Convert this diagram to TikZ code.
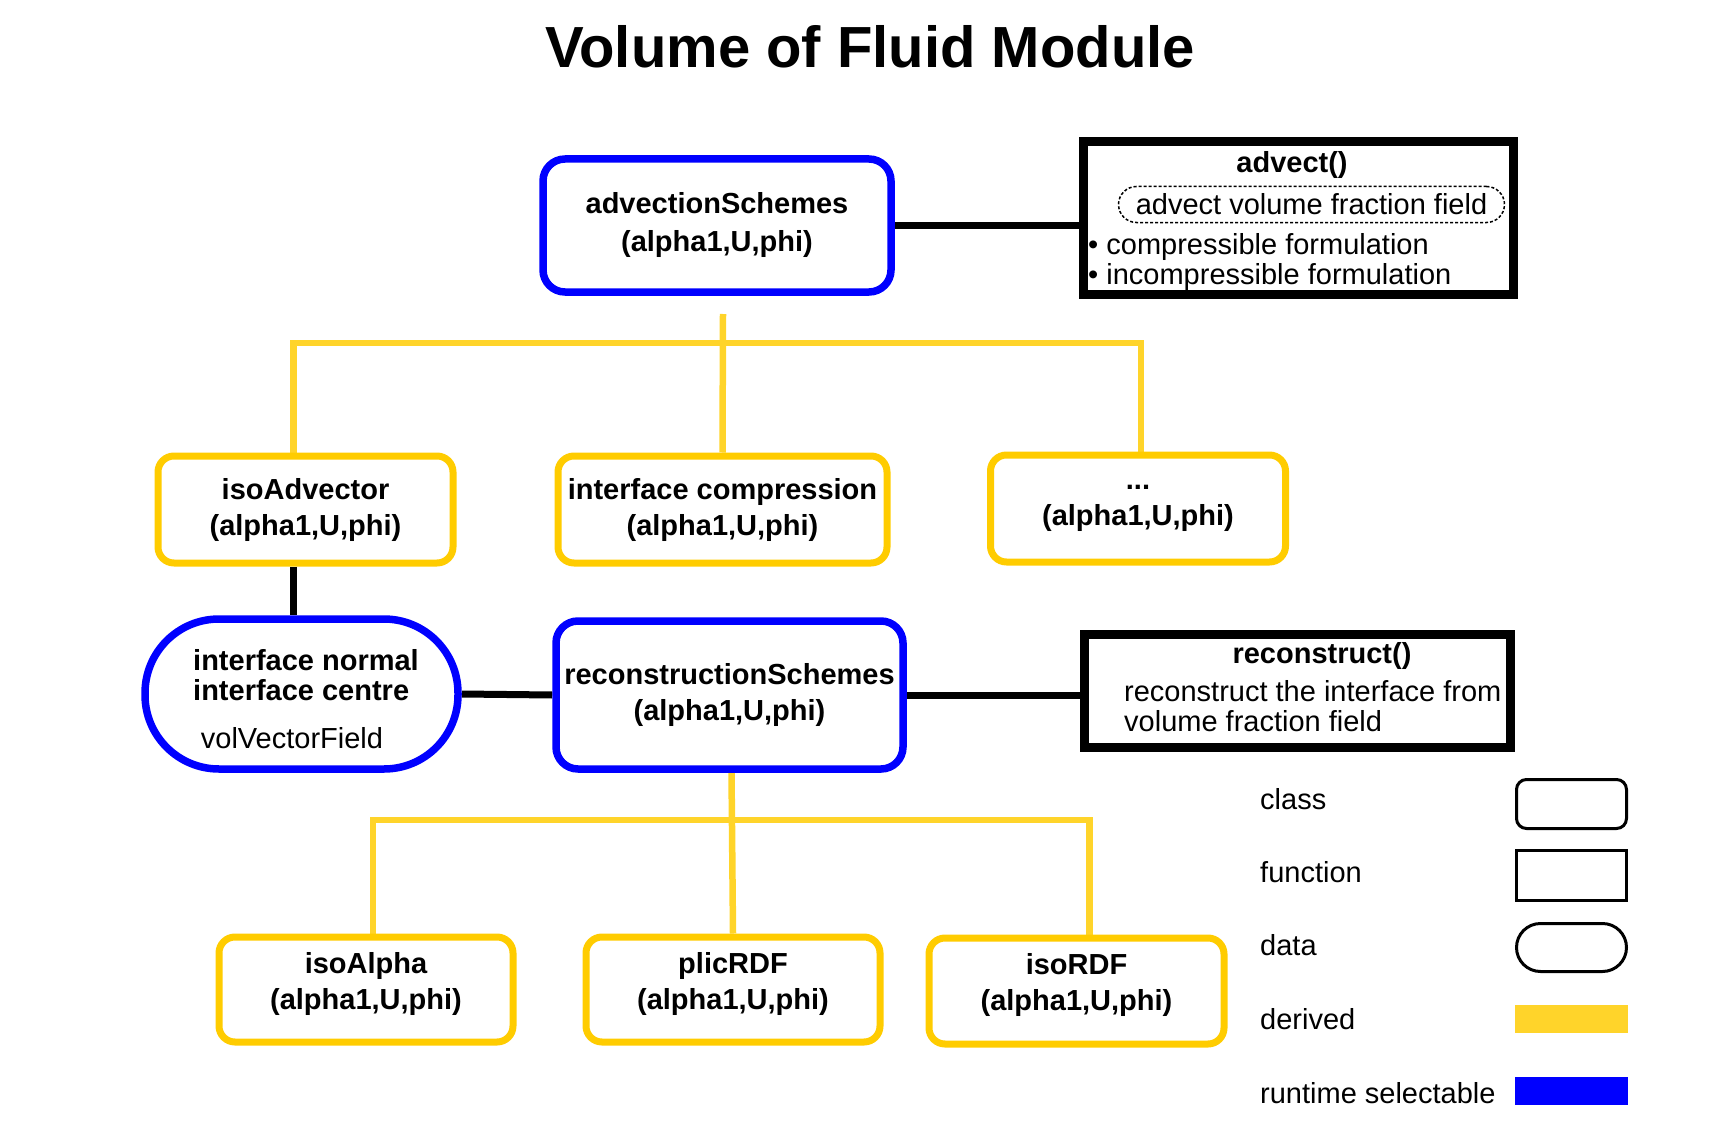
\documentclass[tikz,border=0pt]{standalone}
\usepackage{fontspec}
\setmainfont{Liberation Sans}
\usetikzlibrary{backgrounds,positioning}
\definecolor{rtblue}{RGB}{0,0,255}
\definecolor{dboxyellow}{RGB}{255,204,0}
\definecolor{dlineyellow}{RGB}{255,212,42}

\begin{document}
\begin{tikzpicture}[x=1pt,y=-1pt]
      \tikzstyle{every node}=[inner sep=0pt, align=center, font=\fontsize{29}{36}\selectfont]
      \tikzstyle{bold}=[font=\fontsize{29}{36}\selectfont\bfseries]
      \tikzstyle{runtime}=[draw=rtblue, line width=7.5pt, rounded corners=22pt, fill=white, bold]
      \tikzstyle{derivedbox}=[draw=dboxyellow, line width=7pt, rounded corners=16pt, fill=white, bold, minimum width=295pt, minimum height=107pt]
      \tikzstyle{fnbox}=[draw, line width=9pt, fill=white]
      \tikzstyle{link}=[line width=7pt, black]
      \tikzstyle{derived}=[draw=dlineyellow, line width=6.5pt]
      \tikzstyle{keybox}=[draw, line width=3pt, minimum width=110pt, minimum height=49pt]
      \tikzstyle{keyfill}=[minimum width=113pt, minimum height=28pt]

      \useasboundingbox (0,0) rectangle (1709,1129);
      \node[font=\fontsize{58}{70}\selectfont\bfseries] (title) at (870,47) {Volume of Fluid Module};

      % advection
      \node[runtime, minimum width=348pt, minimum height=133pt, font=\fontsize{29}{38}\selectfont\bfseries] (adv) at (717,225.5) {advectionSchemes\\(alpha1,U,phi)};
      \node[fnbox, minimum width=430pt, minimum height=153pt] (advect) at (1298.5,218) {};
      \node[bold] (advecttitle) at (1292,165) {advect()};
      \node[draw, line width=1.5pt, dash pattern=on 3pt off 2pt, rounded corners=18pt, minimum width=386pt, minimum height=36pt] (advectfield) at (1311.5,204.5) {advect volume fraction field};
      \node[anchor=west, align=left, font=\fontsize{29}{30}\selectfont] (advectlist) at (1088,262) {• compressible formulation\\• incompressible formulation};

      \node[derivedbox] (isoAdv) at (305.5,509.5) {isoAdvector\\(alpha1,U,phi)};
      \node[derivedbox, minimum width=329pt] (icomp) at (722.5,509.5) {interface compression\\(alpha1,U,phi)};
      \node[derivedbox] (dots) at (1138,508.5) {...\\(alpha1,U,phi)};

      % reconstruction
      \node[runtime, rounded corners=74pt, minimum width=313pt, minimum height=150pt] (data) at (301.5,694) {};
      \node[bold, anchor=west, align=left, font=\fontsize{29}{30}\selectfont\bfseries] (datanames) at (193,675) {interface normal\\interface centre};
      \node (datatype) at (292,738) {volVectorField};
      \node[runtime, minimum width=347pt, minimum height=148pt] (recon) at (729.5,695) {reconstructionSchemes\\(alpha1,U,phi)};
      \node[fnbox, minimum width=426pt, minimum height=113pt] (recfn) at (1297.5,691) {};
      \node[bold] (recfntitle) at (1322,656) {reconstruct()};
      \node[anchor=west, align=left, font=\fontsize{29}{30}\selectfont] (recfntext) at (1124,706) {reconstruct the interface from\\volume fraction field};

      \node[derivedbox, minimum width=294pt, minimum height=105pt, text depth=18pt] (isoAlpha) at (366,989.5) {isoAlpha\\(alpha1,U,phi)};
      \node[derivedbox, minimum width=294pt, minimum height=105pt, text depth=18pt] (plic) at (733,989.5) {plicRDF\\(alpha1,U,phi)};
      \node[derivedbox, minimum height=106pt, text depth=18pt] (isoRDF) at (1076.5,991) {isoRDF\\(alpha1,U,phi)};

      % legend
      \node[anchor=west] (lclass) at (1260,799) {class};
      \node[anchor=west] (lfunction) at (1260,872) {function};
      \node[anchor=west] (ldata) at (1260,945) {data};
      \node[anchor=west] (lderived) at (1260,1019) {derived};
      \node[anchor=west] (lruntime) at (1260,1093) {runtime selectable};
      \node[keybox, rounded corners=10pt] (kclass) at (1571.5,804) {};
      \node[keybox, minimum height=50pt] (kfunction) at (1571.5,875.5) {};
      \node[keybox, rounded corners=24pt, minimum height=48pt] (kdata) at (1571.5,947.5) {};
      \node[keyfill, fill=dlineyellow] (kderived) at (1571.5,1019) {};
      \node[keyfill, fill=rtblue] (kruntime) at (1571.5,1091) {};

      \coordinate (advfork) at (723,314);
      \coordinate (advbar) at (723,343);
      \coordinate (recbar) at (732,820);

      \begin{scope}[on background layer]
        \draw[link] (adv.east) -- (adv.east -| advect.west);
        \draw[link] ([xshift=-12pt]isoAdv.south) -- ([xshift=-12pt]isoAdv.south |- data.north);
        \draw[link] (data.east) -- (recon.west);
        \draw[link] (recon.east) -- (recon.east -| recfn.west);

        \draw[derived] (advfork) -- (icomp.north);
        \draw[derived] ([xshift=-12pt]isoAdv.north) |- (advbar) -| ([xshift=3pt]dots.north);
        \draw[derived] ([xshift=2pt]recon.south) -- (plic.north);
        \draw[derived] ([xshift=7pt]isoAlpha.north) |- (recbar) -| ([xshift=13pt]isoRDF.north);
      \end{scope}
    \end{tikzpicture}
\end{document}
